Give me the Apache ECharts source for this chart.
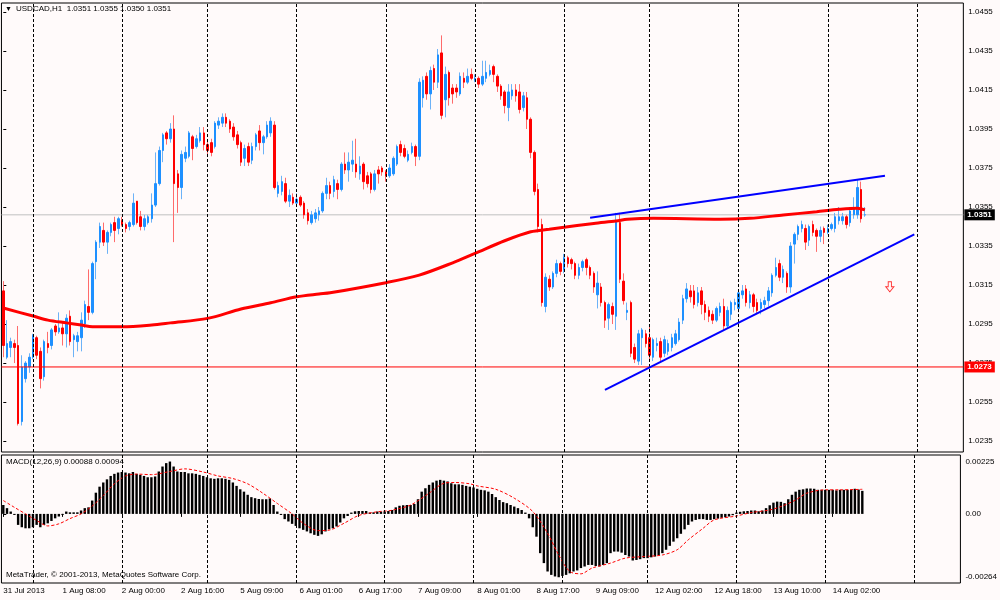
<!DOCTYPE html>
<html>
<head>
<meta charset="utf-8">
<title>USDCAD,H1</title>
<script src="https://cdn.jsdelivr.net/npm/echarts@6/dist/echarts.min.js"></script>
<style>
  html, body { margin: 0; padding: 0; background: #fffafa; }
  #chart { width: 1000px; height: 600px; }
</style>
</head>
<body>
<div id="chart"></div>
<script>
// bar slots on the time axis (MT4 leaves empty room right of the last bar)
const SLOTS = 259;
const LABEL_STEP = 16;
const timeLabels = ['31 Jul 2013', '1 Aug 08:00', '2 Aug 00:00', '2 Aug 16:00', '5 Aug 09:00',
  '6 Aug 01:00', '6 Aug 17:00', '7 Aug 09:00', '8 Aug 01:00', '8 Aug 17:00', '9 Aug 09:00',
  '12 Aug 02:00', '12 Aug 18:00', '13 Aug 10:00', '14 Aug 02:00'];
// bars that open a new day (dotted grid lines)
const dayStarts = [8, 32, 55, 79, 103, 127, 151, 174, 198, 222, 246];
const priceTicks = [1.0235, 1.0255, 1.0275, 1.0295, 1.0315, 1.0335, 1.0355, 1.0375, 1.0395, 1.0415, 1.0435, 1.0455];

// hourly bars: [open, close, low, high]
const candles = [
  [1.0312,1.0284,1.0278,1.0317],[1.0278,1.0285,1.0277,1.0297],[1.0283,1.0286,1.0278,1.0288],[1.0285,1.0283,1.0275,1.0287],
  [1.0284,1.0244,1.0243,1.0294],[1.0245,1.0273,1.0243,1.0279],[1.0267,1.0275,1.0265,1.0276],[1.0273,1.0278,1.0270,1.0280],
  [1.0278,1.0289,1.0277,1.0290],[1.0288,1.0279,1.0277,1.0289],[1.0281,1.0267,1.0262,1.0283],[1.0268,1.0286,1.0266,1.0287],
  [1.0285,1.0283,1.0280,1.0291],[1.0284,1.0292,1.0282,1.0293],[1.0294,1.0291,1.0289,1.0295],[1.0291,1.0293,1.0290,1.0301],
  [1.0293,1.0290,1.0284,1.0296],[1.0290,1.0298,1.0283,1.0300],[1.0299,1.0286,1.0284,1.0302],[1.0287,1.0289,1.0278,1.0290],
  [1.0286,1.0289,1.0281,1.0291],[1.0288,1.0297,1.0281,1.0301],[1.0295,1.0305,1.0293,1.0307],[1.0304,1.0301,1.0297,1.0323],
  [1.0301,1.0326,1.0300,1.0327],[1.0327,1.0337,1.0318,1.0338],[1.0337,1.0345,1.0334,1.0347],[1.0343,1.0337,1.0335,1.0347],
  [1.0337,1.0342,1.0331,1.0343],[1.0342,1.0346,1.0340,1.0347],[1.0347,1.0343,1.0337,1.0350],[1.0344,1.0349,1.0341,1.0350],
  [1.0348,1.0346,1.0345,1.0350],[1.0346,1.0344,1.0342,1.0347],[1.0345,1.0347,1.0343,1.0348],[1.0346,1.0357,1.0345,1.0362],
  [1.0358,1.0347,1.0346,1.0358],[1.0350,1.0345,1.0343,1.0353],[1.0345,1.0349,1.0343,1.0351],[1.0347,1.0350,1.0346,1.0351],
  [1.0349,1.0356,1.0347,1.0362],[1.0356,1.0367,1.0355,1.0383],[1.0367,1.0384,1.0366,1.0386],[1.0384,1.0392,1.0378,1.0393],
  [1.0393,1.0390,1.0387,1.0394],[1.0390,1.0395,1.0388,1.0398],[1.0395,1.0367,1.0337,1.0402],[1.0372,1.0365,1.0352,1.0374],
  [1.0365,1.0382,1.0359,1.0384],[1.0380,1.0383,1.0378,1.0386],[1.0381,1.0393,1.0380,1.0394],[1.0391,1.0385,1.0379,1.0392],
  [1.0386,1.0390,1.0385,1.0392],[1.0389,1.0393,1.0388,1.0396],[1.0393,1.0387,1.0384,1.0396],[1.0387,1.0384,1.0381,1.0389],
  [1.0388,1.0383,1.0381,1.0390],[1.0386,1.0398,1.0385,1.0399],[1.0397,1.0399,1.0395,1.0401],[1.0398,1.0401,1.0396,1.0403],
  [1.0401,1.0398,1.0396,1.0403],[1.0399,1.0395,1.0393,1.0400],[1.0396,1.0391,1.0389,1.0398],[1.0392,1.0387,1.0385,1.0394],
  [1.0388,1.0378,1.0376,1.0389],[1.0380,1.0385,1.0376,1.0387],[1.0386,1.0378,1.0376,1.0388],[1.0379,1.0386,1.0377,1.0388],
  [1.0386,1.0392,1.0384,1.0393],[1.0394,1.0388,1.0384,1.0397],[1.0388,1.0391,1.0382,1.0392],[1.0391,1.0397,1.0390,1.0399],
  [1.0393,1.0399,1.0391,1.0401],[1.0397,1.0365,1.0364,1.0399],[1.0362,1.0366,1.0360,1.0368],[1.0363,1.0368,1.0361,1.0371],
  [1.0367,1.0358,1.0357,1.0370],[1.0358,1.0361,1.0355,1.0364],[1.0360,1.0357,1.0356,1.0362],[1.0357,1.0359,1.0355,1.0362],
  [1.0360,1.0356,1.0355,1.0361],[1.0357,1.0351,1.0349,1.0358],[1.0352,1.0348,1.0346,1.0354],[1.0347,1.0351,1.0346,1.0353],
  [1.0349,1.0352,1.0347,1.0354],[1.0351,1.0353,1.0348,1.0355],[1.0353,1.0362,1.0352,1.0363],[1.0362,1.0366,1.0359,1.0370],
  [1.0366,1.0362,1.0359,1.0368],[1.0363,1.0369,1.0360,1.0371],[1.0367,1.0364,1.0359,1.0369],[1.0364,1.0377,1.0363,1.0378],
  [1.0377,1.0374,1.0372,1.0383],[1.0374,1.0378,1.0368,1.0383],[1.0377,1.0379,1.0373,1.0389],[1.0377,1.0373,1.0370,1.0390],
  [1.0372,1.0376,1.0369,1.0381],[1.0377,1.0368,1.0364,1.0378],[1.0371,1.0367,1.0365,1.0373],[1.0372,1.0364,1.0362,1.0373],
  [1.0364,1.0372,1.0363,1.0374],[1.0374,1.0372,1.0367,1.0376],[1.0375,1.0373,1.0371,1.0376],[1.0373,1.0371,1.0368,1.0374],
  [1.0371,1.0375,1.0370,1.0377],[1.0372,1.0380,1.0371,1.0381],[1.0377,1.0386,1.0376,1.0387],[1.0387,1.0383,1.0381,1.0389],
  [1.0385,1.0381,1.0380,1.0387],[1.0379,1.0382,1.0378,1.0384],[1.0383,1.0386,1.0382,1.0388],[1.0386,1.0381,1.0376,1.0387],
  [1.0381,1.0419,1.0379,1.0421],[1.0411,1.0420,1.0406,1.0422],[1.0422,1.0413,1.0410,1.0424],[1.0413,1.0425,1.0405,1.0427],
  [1.0426,1.0419,1.0415,1.0428],[1.0419,1.0433,1.0416,1.0436],[1.0434,1.0402,1.0400,1.0443],[1.0410,1.0423,1.0401,1.0427],
  [1.0424,1.0411,1.0407,1.0425],[1.0416,1.0413,1.0408,1.0418],[1.0416,1.0414,1.0411,1.0418],[1.0413,1.0422,1.0412,1.0424],
  [1.0421,1.0419,1.0416,1.0424],[1.0419,1.0422,1.0418,1.0426],[1.0423,1.0421,1.0420,1.0426],[1.0420,1.0421,1.0419,1.0423],
  [1.0421,1.0418,1.0416,1.0422],[1.0418,1.0422,1.0417,1.0430],[1.0421,1.0424,1.0419,1.0430],[1.0423,1.0425,1.0422,1.0428],
  [1.0427,1.0423,1.0419,1.0428],[1.0422,1.0417,1.0414,1.0423],[1.0417,1.0412,1.0410,1.0418],[1.0414,1.0407,1.0403,1.0415],
  [1.0406,1.0414,1.0399,1.0418],[1.0412,1.0415,1.0410,1.0418],[1.0415,1.0412,1.0409,1.0418],[1.0414,1.0405,1.0403,1.0418],
  [1.0406,1.0412,1.0404,1.0414],[1.0411,1.0400,1.0395,1.0414],[1.0400,1.0383,1.0380,1.0401],[1.0383,1.0363,1.0361,1.0384],
  [1.0364,1.0345,1.0342,1.0367],[1.0346,1.0306,1.0304,1.0349],[1.0304,1.0319,1.0301,1.0321],[1.0318,1.0314,1.0312,1.0320],
  [1.0314,1.0321,1.0313,1.0322],[1.0321,1.0326,1.0319,1.0328],[1.0326,1.0322,1.0320,1.0327],[1.0323,1.0329,1.0321,1.0331],
  [1.0329,1.0326,1.0324,1.0330],[1.0328,1.0326,1.0323,1.0329],[1.0326,1.0320,1.0318,1.0327],[1.0320,1.0324,1.0318,1.0326],
  [1.0324,1.0327,1.0322,1.0328],[1.0328,1.0324,1.0320,1.0329],[1.0324,1.0320,1.0318,1.0325],[1.0321,1.0314,1.0311,1.0322],
  [1.0310,1.0316,1.0303,1.0322],[1.0314,1.0306,1.0304,1.0316],[1.0306,1.0297,1.0293,1.0307],[1.0298,1.0305,1.0292,1.0306],
  [1.0304,1.0300,1.0295,1.0306],[1.0299,1.0348,1.0292,1.0352],[1.0347,1.0318,1.0316,1.0352],[1.0317,1.0307,1.0305,1.0321],
  [1.0301,1.0302,1.0297,1.0306],[1.0306,1.0280,1.0278,1.0307],[1.0283,1.0277,1.0275,1.0285],[1.0276,1.0290,1.0274,1.0292],
  [1.0288,1.0292,1.0274,1.0293],[1.0290,1.0285,1.0283,1.0292],[1.0288,1.0279,1.0277,1.0294],[1.0278,1.0287,1.0276,1.0288],
  [1.0284,1.0285,1.0281,1.0288],[1.0286,1.0278,1.0276,1.0288],[1.0280,1.0287,1.0278,1.0289],[1.0281,1.0285,1.0279,1.0287],
  [1.0283,1.0288,1.0281,1.0290],[1.0285,1.0290,1.0284,1.0292],[1.0287,1.0296,1.0286,1.0298],[1.0297,1.0308,1.0295,1.0310],
  [1.0308,1.0313,1.0306,1.0316],[1.0312,1.0309,1.0306,1.0315],[1.0312,1.0305,1.0303,1.0315],[1.0306,1.0311,1.0304,1.0314],
  [1.0312,1.0305,1.0300,1.0314],[1.0305,1.0301,1.0297,1.0307],[1.0302,1.0299,1.0296,1.0304],[1.0300,1.0297,1.0295,1.0302],
  [1.0297,1.0303,1.0296,1.0304],[1.0301,1.0304,1.0299,1.0306],[1.0304,1.0294,1.0292,1.0308],[1.0294,1.0302,1.0293,1.0304],
  [1.0300,1.0306,1.0297,1.0307],[1.0305,1.0306,1.0302,1.0308],[1.0303,1.0311,1.0301,1.0312],[1.0310,1.0312,1.0308,1.0315],
  [1.0313,1.0306,1.0304,1.0315],[1.0306,1.0310,1.0303,1.0312],[1.0310,1.0304,1.0301,1.0311],[1.0306,1.0302,1.0300,1.0308],
  [1.0303,1.0306,1.0300,1.0308],[1.0305,1.0307,1.0303,1.0309],[1.0307,1.0312,1.0304,1.0314],[1.0311,1.0320,1.0309,1.0321],
  [1.0320,1.0324,1.0319,1.0329],[1.0326,1.0319,1.0317,1.0328],[1.0319,1.0323,1.0316,1.0325],[1.0321,1.0314,1.0311,1.0322],
  [1.0314,1.0335,1.0311,1.0337],[1.0336,1.0341,1.0326,1.0342],[1.0341,1.0345,1.0338,1.0346],[1.0344,1.0346,1.0342,1.0348],
  [1.0344,1.0337,1.0333,1.0346],[1.0338,1.0345,1.0335,1.0346],[1.0346,1.0342,1.0340,1.0348],[1.0343,1.0340,1.0332,1.0344],
  [1.0340,1.0343,1.0337,1.0345],[1.0344,1.0342,1.0336,1.0345],[1.0342,1.0344,1.0341,1.0346],[1.0344,1.0346,1.0343,1.0347],
  [1.0344,1.0350,1.0342,1.0352],[1.0348,1.0350,1.0346,1.0355],[1.0348,1.0350,1.0346,1.0352],[1.0350,1.0346,1.0344,1.0351],
  [1.0347,1.0353,1.0345,1.0355],[1.0351,1.0354,1.0349,1.0360],[1.0351,1.0365,1.0349,1.0369],[1.0364,1.0349,1.0347,1.0368],
  [1.0351,1.0351,1.0350,1.0355]
];

const maPoints = [[0,1.03032],[8,1.02991],[12,1.02970],[17,1.02956],[21,1.02945],[24,1.02936],[32,1.02936],
  [40,1.02945],[45,1.02956],[55,1.02979],[64,1.03027],[72,1.03059],[79,1.03090],[85,1.03104],[88,1.03110],
  [103,1.03162],[112,1.03201],[121,1.03264],[127,1.03312],[135,1.03377],[142,1.03423],[147,1.03436],
  [150,1.03444],[159,1.03466],[165,1.03478],[168,1.03487],[175,1.03492],[193,1.03487],[201,1.03492],
  [210,1.03509],[219,1.03526],[225,1.03538],[230,1.03544],[232,1.03535]];

// MACD histogram, in 0.00001
const macdHist = [34,22,9,-4,-42,-51,-55,-55,-51,-42,
  -51,-42,-36,-27,-17,-10,-4,9,6,6,
  6,13,22,25,51,81,104,120,132,145,
  153,158,160,158,155,160,153,149,145,140,
  140,143,162,181,194,200,181,162,160,160,
  155,155,153,149,145,140,136,134,136,136,
  134,130,120,107,94,85,73,64,60,57,
  56,56,59,34,9,-4,-20,-29,-38,-46,
  -55,-61,-67,-74,-80,-84,-78,-67,-59,-55,
  -48,-33,-17,-8,5,10,11,11,11,5,
  6,9,9,9,11,15,25,31,33,34,
  34,38,56,85,98,111,120,127,130,127,
  124,117,113,113,111,107,104,101,96,92,
  90,85,76,64,53,45,41,34,28,22,
  15,5,-17,-51,-87,-150,-188,-220,-233,-239,
  -242,-237,-233,-227,-220,-216,-207,-201,-195,-195,
  -199,-201,-195,-188,-150,-144,-144,-148,-157,-163,
  -178,-176,-173,-169,-169,-166,-163,-157,-150,-137,
  -122,-106,-93,-76,-59,-42,-29,-23,-20,-20,
  -23,-23,-20,-18,-15,-13,-10,-5,5,8,
  10,11,13,13,10,13,22,33,43,47,
  46,41,56,73,85,92,94,97,97,96,
  92,92,92,92,92,90,92,92,92,93,
  96,93,88];

// signal line [bar, value in 0.00001]
const signalPoints = [[0,51],[3,25],[6,0],[9,-25],[12,-46],[15,-38],[18,-18],[21,0],[24,30],[27,70],
  [30,115],[33,145],[36,152],[40,150],[45,162],[49,172],[54,160],[58,145],[62,135],[66,115],[70,80],
  [74,40],[78,0],[81,-36],[85,-64],[88,-62],[92,-36],[96,-6],[101,8],[105,14],[110,34],[115,79],
  [119,117],[122,120],[126,115],[128,107],[133,94],[138,60],[143,9],[147,-74],[150,-157],[153,-220],
  [156,-229],[159,-207],[164,-188],[168,-169],[173,-163],[178,-157],[182,-137],[185,-99],[189,-55],
  [192,-23],[198,-8],[202,5],[207,15],[210,28],[214,53],[217,79],[222,92],[226,92],[232,94]];
const macdMax = 225;
const macdMin = -264;

// drawn objects
const upperTrend = [[158.0, 1.03495], [237.4, 1.03710]];
const lowerTrend = [[162.0, 1.02612], [245.3, 1.03410]];
const bidPrice = 1.0351;
const levelPrice = 1.0273;
const arrowPoint = [238.7, 1.03141];

const FONT = 'Liberation Sans';

const slots = [];
for (let i = 0; i < SLOTS; i++) slots.push(String(i));
const bodies = candles.map(c => [c[0], c[1], Math.min(c[0], c[1]), Math.max(c[0], c[1])]);
const last = candles[candles.length - 1];
const isLabelBar = i => i % LABEL_STEP === 0 && i / LABEL_STEP < timeLabels.length;
const fullSpan = v => [[-0.5, v], [SLOTS - 0.5, v]];

const txt = { fontFamily: FONT, fontSize: 8, color: '#000', fontWeight: 'normal' };
const dayLines = {
  silent: true, symbol: 'none', animation: false, label: { show: false },
  lineStyle: { color: '#000', width: 1, type: [3, 2] },
  data: dayStarts.map(d => ({ xAxis: d }))
};
const priceBox = (v, bg) => ({
  show: true, distance: 1, formatter: () => v.toFixed(4), color: '#fff', backgroundColor: bg,
  padding: [2, 3, 1, 3], fontSize: 8, fontWeight: 'bold', fontFamily: FONT
});

const chart = echarts.init(document.getElementById('chart'));
chart.setOption({
  animation: false,
  backgroundColor: '#fffafa',
  textStyle: { fontFamily: FONT },
  title: [
    { text: '\u25BC', left: 5, top: 6, padding: 0, textStyle: Object.assign({}, txt, { fontSize: 7 }) },
    { text: 'USDCAD,H1  ' + last[0].toFixed(4) + ' ' + last[3].toFixed(4) + ' ' + last[2].toFixed(4) + ' ' + last[1].toFixed(4),
      left: 16, top: 5, padding: 0, textStyle: txt },
    { text: 'MACD(12,26,9) ' + (macdHist[macdHist.length - 1] / 1e5).toFixed(5) + ' ' +
        (signalPoints[signalPoints.length - 1][1] / 1e5).toFixed(5),
      left: 6, top: 458, padding: 0, textStyle: txt },
    { text: 'MetaTrader, \u00A9 2001-2013, MetaQuotes Software Corp.', left: 6, top: 571, padding: 0, textStyle: txt }
  ],
  grid: [
    { left: 1.45, top: 3, width: 961.9, height: 449, show: true, borderColor: '#000', borderWidth: 1 },
    { left: 1.45, top: 455, width: 961.9, height: 128, show: true, borderColor: '#000', borderWidth: 1 }
  ],
  xAxis: [
    { type: 'category', gridIndex: 0, data: slots, boundaryGap: true,
      axisLine: { show: false }, axisTick: { show: false }, axisLabel: { show: false }, splitLine: { show: false } },
    { type: 'category', gridIndex: 1, data: slots, boundaryGap: true,
      axisLine: { show: false }, splitLine: { show: false },
      axisTick: { show: true, interval: isLabelBar, alignWithLabel: true, length: 3, lineStyle: { color: '#000' } },
      axisLabel: Object.assign({ show: true, interval: isLabelBar, align: 'left', margin: 4,
        formatter: v => timeLabels[Number(v) / LABEL_STEP] }, txt) },
    { type: 'value', gridIndex: 0, min: -0.5, max: SLOTS - 0.5, show: false },
    { type: 'value', gridIndex: 1, min: -0.5, max: SLOTS - 0.5, show: false }
  ],
  yAxis: [
    { type: 'value', gridIndex: 0, position: 'right', min: 1.02294, max: 1.04596,
      axisLine: { show: false }, splitLine: { show: false },
      axisTick: { show: true, length: 3, customValues: priceTicks, lineStyle: { color: '#000' } },
      axisLabel: Object.assign({ customValues: priceTicks, margin: 5, formatter: v => v.toFixed(4) }, txt) },
    { type: 'value', gridIndex: 1, position: 'right', min: macdMin / 1e5, max: macdMax / 1e5,
      axisLine: { show: false }, splitLine: { show: false },
      axisTick: { show: true, length: 3, customValues: [0], lineStyle: { color: '#000' } },
      // MT4 keeps the max/min captions just inside the pane
      axisLabel: Object.assign({ customValues: [0.00198, 0, -0.00241], margin: 5,
        formatter: v => v > 0 ? (macdMax / 1e5).toFixed(5) : (v < 0 ? (macdMin / 1e5).toFixed(5) : '0.00') }, txt) }
  ],
  series: [
    { name: 'bid', type: 'line', xAxisIndex: 2, yAxisIndex: 0, data: fullSpan(bidPrice), symbol: 'none', z: 1,
      lineStyle: { color: '#c0c0c0', width: 1 }, endLabel: priceBox(bidPrice, '#000'), markLine: dayLines },
    { name: 'wicks', type: 'candlestick', xAxisIndex: 0, yAxisIndex: 0, data: candles, barWidth: 1, z: 2,
      itemStyle: { color: '#6cb2f7', color0: '#ff6b6b', borderColor: '#6cb2f7', borderColor0: '#ff6b6b', borderWidth: 1 } },
    { name: 'bodies', type: 'candlestick', xAxisIndex: 0, yAxisIndex: 0, data: bodies, barWidth: 2, z: 3,
      itemStyle: { color: '#1e90ff', color0: '#ff0000', borderColor: '#1e90ff', borderColor0: '#ff0000', borderWidth: 1 } },
    { name: 'level', type: 'line', xAxisIndex: 2, yAxisIndex: 0, data: fullSpan(levelPrice), symbol: 'none', z: 4,
      lineStyle: { color: '#ff0000', width: 1 }, endLabel: priceBox(levelPrice, '#ff0000') },
    { name: 'MA', type: 'line', xAxisIndex: 2, yAxisIndex: 0, data: maPoints, symbol: 'none', smooth: 0.3, z: 4,
      lineStyle: { color: '#ff0000', width: 3 } },
    { name: 'upper', type: 'line', xAxisIndex: 2, yAxisIndex: 0, data: upperTrend, symbol: 'none', z: 5,
      lineStyle: { color: '#0000ff', width: 2 } },
    { name: 'lower', type: 'line', xAxisIndex: 2, yAxisIndex: 0, data: lowerTrend, symbol: 'none', z: 5,
      lineStyle: { color: '#0000ff', width: 2 } },
    { name: 'arrow', type: 'scatter', xAxisIndex: 2, yAxisIndex: 0, data: [arrowPoint], z: 5,
      symbol: 'path://M3,0L7,0L7,6L10,6L5,12L0,6L3,6Z', symbolSize: [8, 10],
      itemStyle: { color: '#fffafa', borderColor: '#ff0000', borderWidth: 1 } },
    { name: 'macdGrid', type: 'line', xAxisIndex: 3, yAxisIndex: 1, data: fullSpan(0), symbol: 'none', z: 1,
      lineStyle: { opacity: 0 }, markLine: dayLines },
    { name: 'MACD', type: 'bar', xAxisIndex: 1, yAxisIndex: 1, data: macdHist.map(v => v / 1e5), barWidth: 2.4, z: 2,
      itemStyle: { color: '#000' } },
    { name: 'Signal', type: 'line', xAxisIndex: 3, yAxisIndex: 1, data: signalPoints.map(p => [p[0], p[1] / 1e5]),
      symbol: 'none', smooth: 0.3, z: 4, lineStyle: { color: '#ff0000', width: 1, type: [3, 2] } }
  ]
});

window.addEventListener('resize', function() {
  chart.resize();
});
</script>
</body>
</html>
